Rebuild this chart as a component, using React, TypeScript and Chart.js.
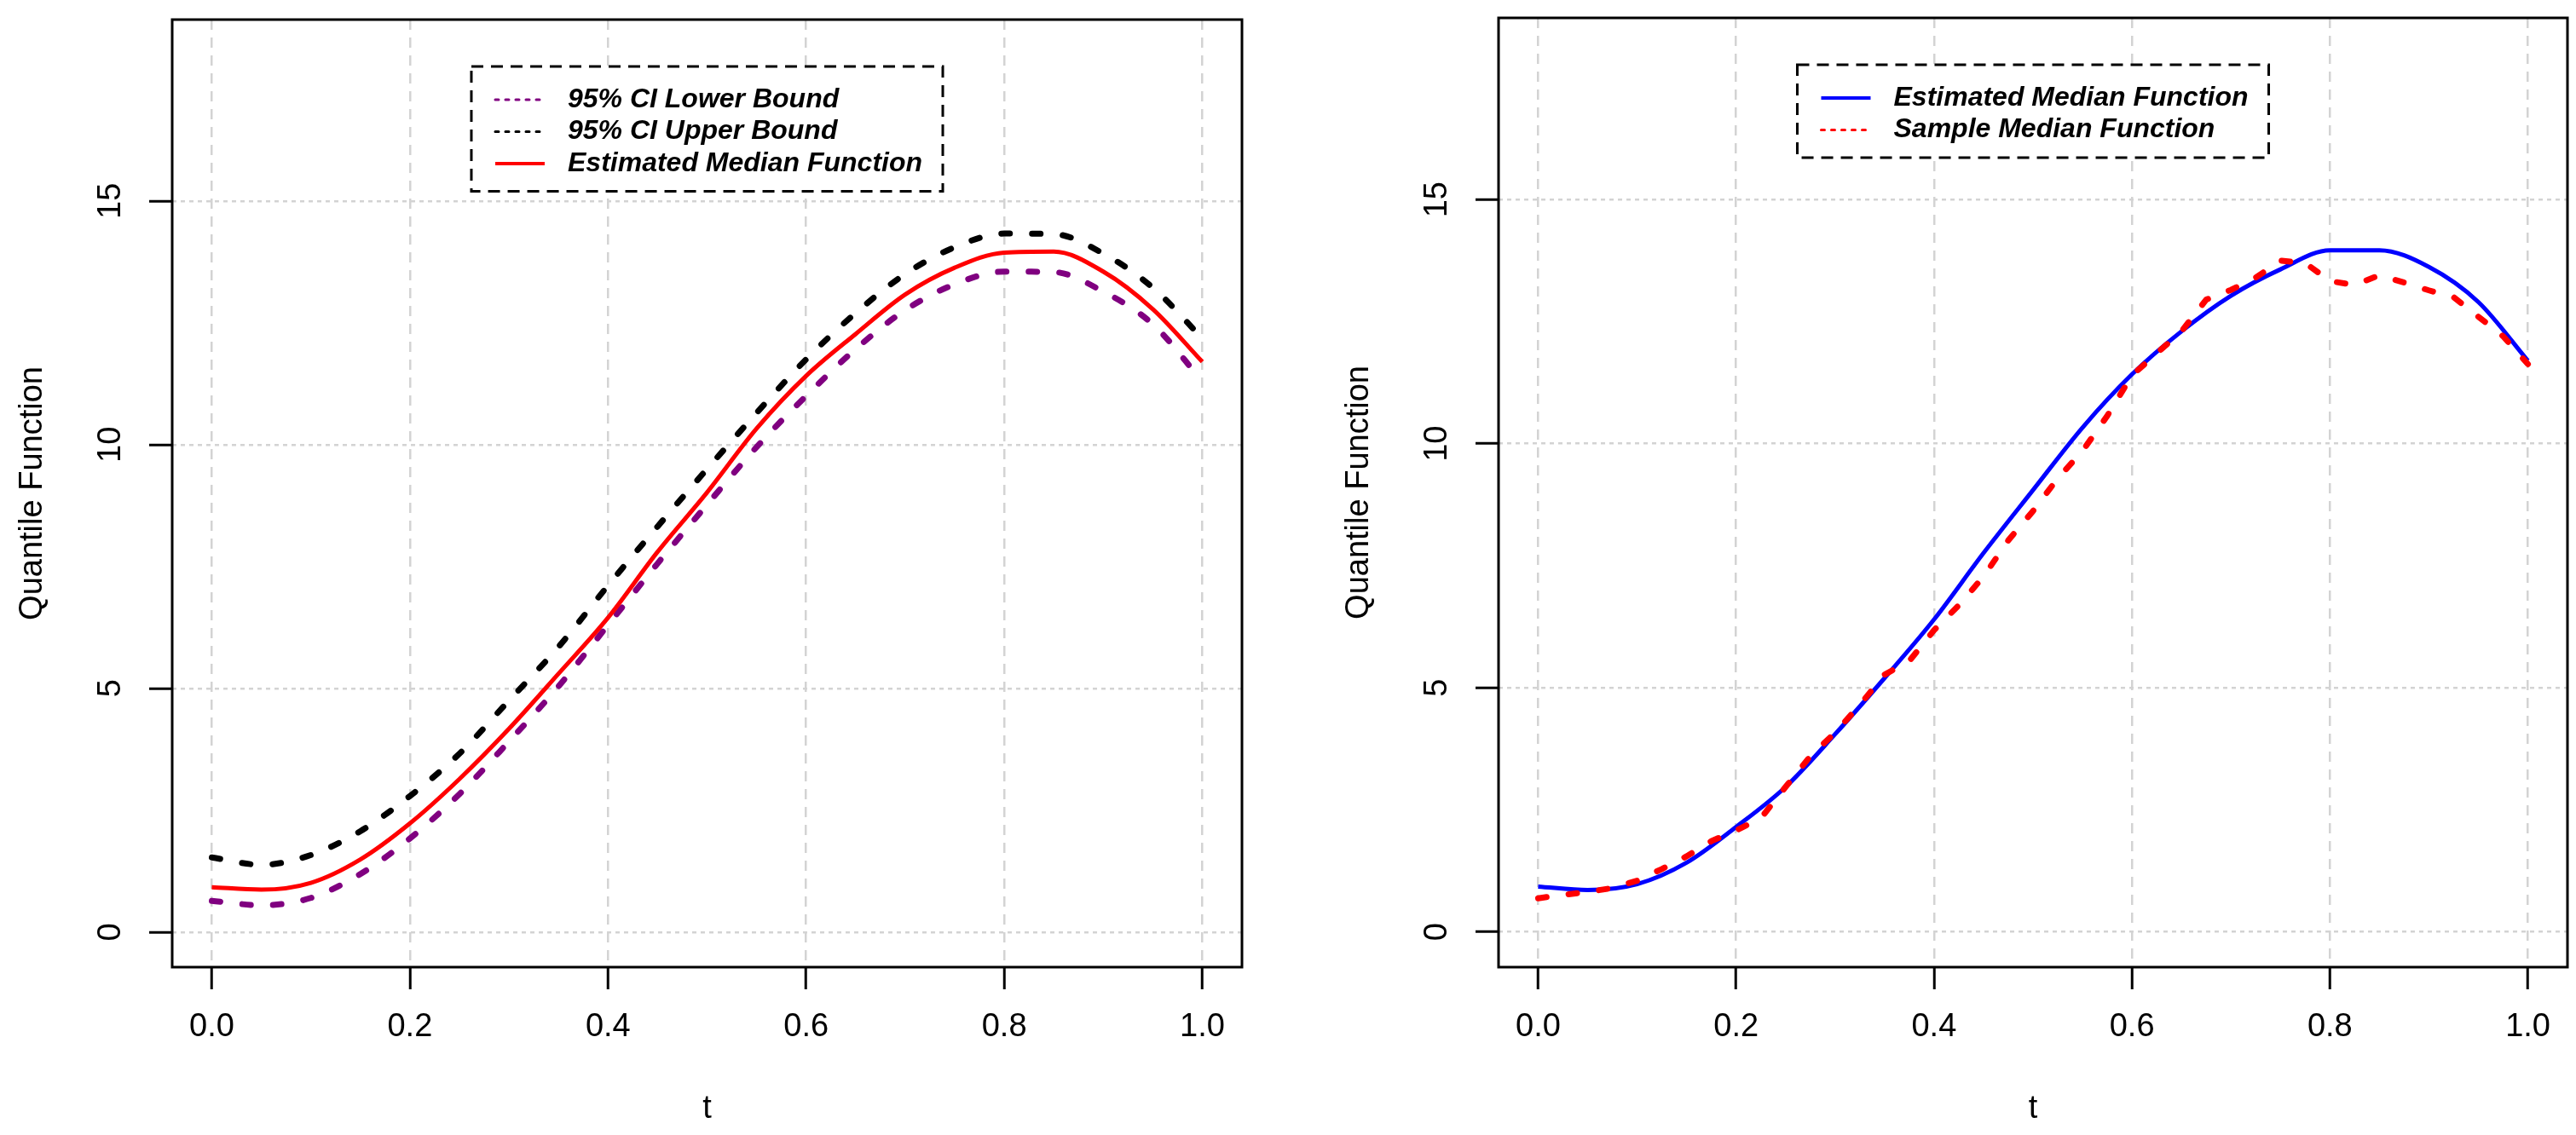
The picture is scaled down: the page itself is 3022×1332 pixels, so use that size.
import { useEffect, useRef } from 'react';
import { Chart, registerables } from 'chart.js';

Chart.register(...registerables);

const FONT = '"Liberation Sans", Arial, sans-serif';
const PURPLE = '#800080';

// t values of the smooth curves
const tGrid = [0, 0.05, 0.1, 0.15, 0.2, 0.25, 0.3, 0.35, 0.4, 0.45, 0.5, 0.55, 0.6, 0.65, 0.7, 0.75, 0.8, 0.85, 0.9, 0.95, 1];

// left panel
const ciLower = [0.64, 0.55, 0.7, 1.19, 1.92, 2.83, 3.91, 5.04, 6.3, 7.56, 8.77, 9.95, 11.0, 11.96, 12.76, 13.29, 13.55, 13.54, 13.14, 12.47, 11.3];
const ciUpper = [1.53, 1.38, 1.58, 2.07, 2.79, 3.66, 4.75, 5.85, 7.11, 8.32, 9.5, 10.65, 11.75, 12.7, 13.5, 14.05, 14.33, 14.32, 13.92, 13.22, 12.18];
const estMedianLeft = [0.92, 0.87, 1.01, 1.49, 2.23, 3.14, 4.17, 5.3, 6.45, 7.8, 9.02, 10.33, 11.41, 12.27, 13.08, 13.63, 13.94, 13.96, 13.55, 12.78, 11.7];

// right panel
const estMedianRight = [0.93, 0.86, 0.98, 1.42, 2.15, 2.97, 4.05, 5.2, 6.4, 7.76, 9.05, 10.33, 11.42, 12.3, 13.03, 13.57, 13.96, 13.96, 13.62, 12.9, 11.7];
const tSample = [
  0, 0.025, 0.05, 0.075, 0.1, 0.125, 0.15, 0.175, 0.2, 0.225, 0.25, 0.275, 0.3, 0.325, 0.35, 0.375, 0.4, 0.425, 0.45, 0.475,
  0.5, 0.525, 0.55, 0.575, 0.6, 0.625, 0.65, 0.675, 0.7, 0.725, 0.75, 0.775, 0.8, 0.825, 0.85, 0.875, 0.9, 0.925, 0.95, 0.975, 1,
];
const sampleMedian = [
  0.69, 0.76, 0.82, 0.9, 1.05, 1.29, 1.55, 1.86, 2.08, 2.33, 2.97, 3.6, 4.08, 4.65, 5.27, 5.55, 6.18, 6.69, 7.28, 8.02,
  8.62, 9.29, 9.85, 10.57, 11.4, 11.85, 12.3, 12.95, 13.15, 13.4, 13.75, 13.7, 13.33, 13.25, 13.45, 13.3, 13.14, 13.0, 12.6, 12.2, 11.63,
];

const xTicks = [0, 0.2, 0.4, 0.6, 0.8, 1.0];
const yTicks = [0, 5, 10, 15];

type LegendItem = { label: string; color: string; dash: number[]; width: number };

const toPoints = (xs: number[], ys: number[]) => xs.map((x, i) => ({ x, y: ys[i] }));

const dotted = { borderWidth: 7, borderDash: [10, 26], borderCapStyle: 'round' as const };

// box, rotated y labels and the dashed R-style legend
const rStylePlugin = {
  id: 'rStyle',
  afterDraw(chart: any, _args: any, opts: any) {
    const { ctx, chartArea: a } = chart;
    const yScale = chart.scales.y;
    ctx.save();

    ctx.setLineDash([]);
    ctx.strokeStyle = '#000';
    ctx.lineWidth = 3;
    ctx.strokeRect(a.left, a.top, a.right - a.left, a.bottom - a.top);

    ctx.fillStyle = '#000';
    ctx.font = `38px ${FONT}`;
    ctx.textAlign = 'center';
    ctx.textBaseline = 'middle';
    for (const v of yTicks) {
      ctx.save();
      ctx.translate(a.left - 71, yScale.getPixelForValue(v));
      ctx.rotate(-Math.PI / 2);
      ctx.fillText(String(v), 0, 0);
      ctx.restore();
    }

    const items: LegendItem[] = opts.items || [];
    ctx.font = `italic bold 32px ${FONT}`;
    const textW = Math.max(...items.map((it) => ctx.measureText(it.label).width));
    const w = 113 + textW + 24;
    const h = items.length * 37.5 + 34;
    const lx = (a.left + a.right) / 2 - w / 2;
    const ly = a.top + 55;
    ctx.fillStyle = '#fff';
    ctx.fillRect(lx, ly, w, h);
    ctx.setLineDash([14, 9]);
    ctx.lineWidth = 3;
    ctx.strokeStyle = '#000';
    ctx.strokeRect(lx, ly, w, h);

    items.forEach((it, i) => {
      const cy = ly + 39 + i * 37.5;
      ctx.setLineDash(it.dash);
      ctx.lineCap = it.dash.length ? 'round' : 'butt';
      ctx.lineWidth = it.width;
      ctx.strokeStyle = it.color;
      ctx.beginPath();
      ctx.moveTo(lx + 28, cy);
      ctx.lineTo(lx + 86, cy);
      ctx.stroke();
      ctx.fillStyle = '#000';
      ctx.textAlign = 'left';
      ctx.fillText(it.label, lx + 113, cy);
    });
    ctx.restore();
  },
};

interface PanelProps {
  x: number;
  pad: { left: number; top: number; right: number };
  xAxisHeight: number;
  datasets: any[];
  legend: LegendItem[];
}

function Panel({ x, pad, xAxisHeight, datasets, legend }: PanelProps) {
  const canvasRef = useRef<HTMLCanvasElement>(null);

  useEffect(() => {
    if (!canvasRef.current) return;
    const chart = new Chart(canvasRef.current, {
      type: 'line',
      data: { datasets },
      options: {
        animation: false,
        responsive: true,
        maintainAspectRatio: false,
        events: [],
        layout: { padding: { ...pad, bottom: 0 } },
        elements: { point: { radius: 0 } },
        plugins: {
          legend: { display: false },
          tooltip: { enabled: false },
          rStyle: { items: legend },
        } as any,
        scales: {
          x: {
            type: 'linear',
            min: -0.04,
            max: 1.04,
            afterBuildTicks: (s: any) => {
              s.ticks = xTicks.map((value) => ({ value }));
            },
            afterFit: (s: any) => {
              s.height = xAxisHeight;
            },
            ticks: {
              color: '#000',
              font: { family: FONT, size: 38, lineHeight: 1 },
              padding: 26,
              maxRotation: 0,
              callback: (v: any) => Number(v).toFixed(1),
            },
            grid: { color: '#d3d3d3', lineWidth: 2.5, tickColor: '#000', tickWidth: 3, tickLength: 26 },
            border: { display: false, dash: [12, 9] },
            title: {
              display: true,
              text: 't',
              color: '#000',
              font: { family: FONT, size: 38, lineHeight: 1 },
              padding: { top: 0, bottom: 11 },
            },
          },
          y: {
            type: 'linear',
            min: -0.72,
            max: 18.72,
            afterBuildTicks: (s: any) => {
              s.ticks = yTicks.map((value) => ({ value }));
            },
            afterFit: (s: any) => {
              s.width = 202;
            },
            ticks: { display: false },
            grid: { color: '#d3d3d3', lineWidth: 2.5, tickColor: '#000', tickWidth: 3, tickLength: 27 },
            border: { display: false, dash: [5, 5] },
            title: {
              display: true,
              text: 'Quantile Function',
              color: '#000',
              font: { family: FONT, size: 38, lineHeight: 1 },
              padding: { top: 20, bottom: 0 },
            },
          },
        },
      },
      plugins: [rStylePlugin],
    });
    return () => chart.destroy();
  }, []);

  return (
    <div style={{ position: 'absolute', left: x, top: 0, width: 1511, height: 1332 }}>
      <canvas ref={canvasRef}></canvas>
    </div>
  );
}

const leftDatasets = [
  { label: 'Estimated Median Function', data: toPoints(tGrid, estMedianLeft), borderColor: '#ff0000', borderWidth: 5, cubicInterpolationMode: 'monotone', order: 0 },
  { label: '95% CI Upper Bound', data: toPoints(tGrid, ciUpper), borderColor: '#000000', ...dotted, cubicInterpolationMode: 'monotone', order: 1 },
  { label: '95% CI Lower Bound', data: toPoints(tGrid, ciLower), borderColor: PURPLE, ...dotted, cubicInterpolationMode: 'monotone', order: 2 },
];

const rightDatasets = [
  { label: 'Sample Median Function', data: toPoints(tSample, sampleMedian), borderColor: '#ff0000', ...dotted, tension: 0, order: 0 },
  { label: 'Estimated Median Function', data: toPoints(tGrid, estMedianRight), borderColor: '#0000ff', borderWidth: 5, cubicInterpolationMode: 'monotone', order: 1 },
];

const leftLegend: LegendItem[] = [
  { label: '95% CI Lower Bound', color: PURPLE, dash: [4, 8], width: 3 },
  { label: '95% CI Upper Bound', color: '#000000', dash: [4, 8], width: 3 },
  { label: 'Estimated Median Function', color: '#ff0000', dash: [], width: 4 },
];

const rightLegend: LegendItem[] = [
  { label: 'Estimated Median Function', color: '#0000ff', dash: [], width: 4 },
  { label: 'Sample Median Function', color: '#ff0000', dash: [4, 8], width: 3 },
];

export default function App() {
  return (
    <div style={{ position: 'absolute', left: 0, top: 0, width: 3022, height: 1332, background: '#fff' }}>
      <Panel x={0} pad={{ left: 0, top: 23, right: 54 }} xAxisHeight={197} datasets={leftDatasets} legend={leftLegend} />
      <Panel x={1511} pad={{ left: 45, top: 21, right: 10 }} xAxisHeight={197} datasets={rightDatasets} legend={rightLegend} />
    </div>
  );
}
